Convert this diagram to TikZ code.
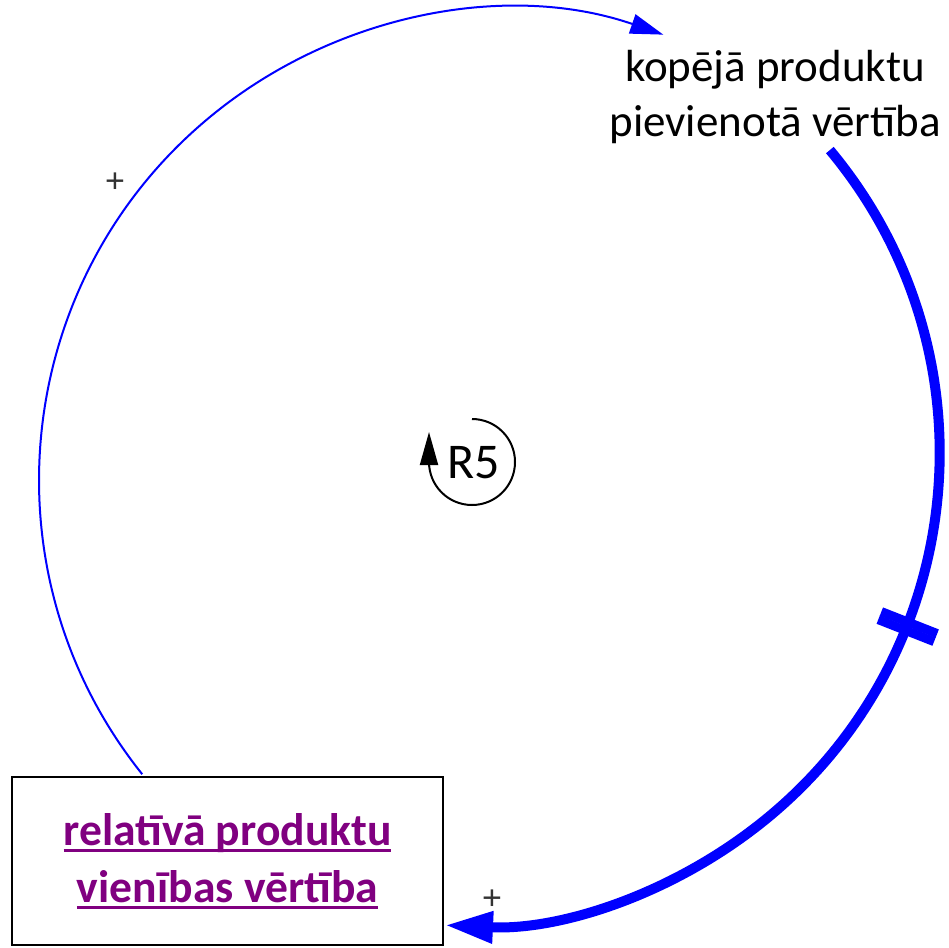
\documentclass[tikz,border=0pt]{standalone}
\usepackage{fontspec}
\setmainfont{Carlito}
\newfontfamily\plusfont{Liberation Sans}
\usetikzlibrary{arrows.meta,calc}
\definecolor{vblue}{RGB}{0,0,255}
\definecolor{vpurple}{RGB}{128,0,128}
\definecolor{pgray}{RGB}{51,51,51}
\newcommand\myul[1]{\setbox0\hbox{#1}\rlap{\rule[-6pt]{\wd0}{2.2pt}}\box0}
\begin{document}
\begin{tikzpicture}[x=1pt,y=-1pt,
  varlabel/.style={font=\fontsize{45}{55}\selectfont, align=center, inner sep=0pt},
  boxvar/.style={draw=black, line width=2pt, minimum width=431pt, minimum height=168pt,
    inner sep=0pt, font=\fontsize{45.6}{57}\bfseries\selectfont, text=vpurple, align=center},
  thinlink/.style={draw=vblue, line width=2pt, -{Triangle[length=33pt,width=20pt]}},
  thicklink/.style={draw=vblue, line width=10pt, -{Triangle[length=48pt,width=30pt]}},
  delaybar/.style={draw=vblue, line width=9pt},
  polarity/.style={font=\plusfont\fontsize{34}{34}\selectfont, text=pgray, inner sep=0pt},
  loopname/.style={font=\fontsize{50}{50}\selectfont, inner sep=0pt},
  looparrow/.style={draw=black, line width=2pt, -{Triangle[length=33pt,width=18pt]}}]
\useasboundingbox[fill=white] (0,0) rectangle (949,947);

% variables
\node[varlabel] (kop) at (775,97) {kopējā produktu\\pievienotā vērtība};
\node[boxvar] (rel) at (227.5,861) {\myul{relatīvā produktu}\\\myul{vienības vērtība}};

% thin link: rel -> kop
\coordinate (cL) at (510,480);
\coordinate (s1) at ($(cL)+(141.34:471)$);
\draw[thinlink] (s1) arc[start angle=141.34, end angle=289, radius=471];

% thick link with delay: kop -> rel
\coordinate (cR) at (467,453);
\coordinate (s2) at ($(cR)+(-39.86:472.7)$);
\draw[thicklink] (s2) arc[start angle=-39.86, end angle=92.67, radius=472.7];

% delay mark
\coordinate (dm) at ($(cR)+(21.5:472.7)$);
\draw[delaybar] ($(dm)+(21.5:31)+(111.5:4.3)$) -- ($(dm)+(21.5:-29)+(111.5:4.3)$);
\draw[delaybar] ($(dm)+(21.5:31)+(111.5:-4.3)$) -- ($(dm)+(21.5:-29)+(111.5:-4.3)$);

% polarities
\node[polarity] (p1) at (115,183) {+};
\node[polarity] (p2) at (492,900) {+};

% loop identifier
\node[loopname] (r5) at (474,463) {R5};
\coordinate (lc) at (472,462);
\coordinate (ltop) at ($(lc)+(270:43)$);
\draw[looparrow] (ltop) arc[start angle=270, end angle=540, radius=43] -- ++(0,-30);
\end{tikzpicture}
\end{document}
